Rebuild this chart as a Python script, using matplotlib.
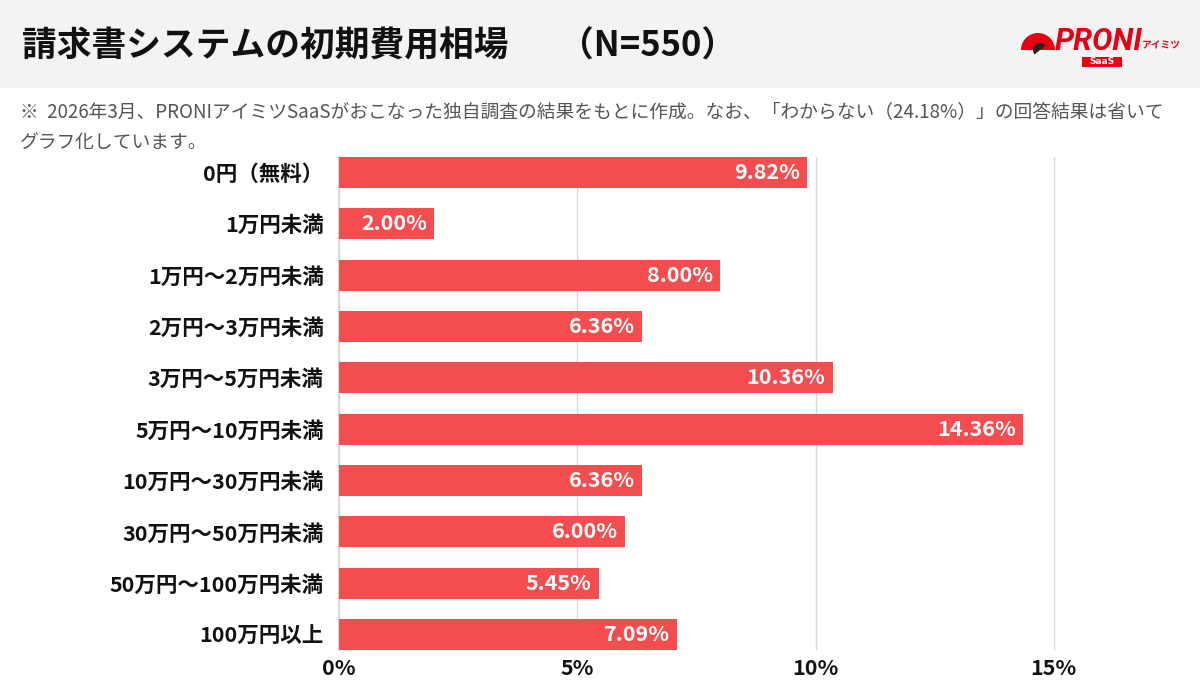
import matplotlib.pyplot as plt
from matplotlib.patches import Rectangle, Wedge
import numpy as np

plt.rcParams['font.family'] = ['Noto Sans CJK JP', 'DejaVu Sans']

categories = ['0円（無料）', '1万円未満', '1万円〜2万円未満', '2万円〜3万円未満', '3万円〜5万円未満',
              '5万円〜10万円未満', '10万円〜30万円未満', '30万円〜50万円未満', '50万円〜100万円未満',
              '100万円以上']
values = [9.82, 2.00, 8.00, 6.36, 10.36, 14.36, 6.36, 6.00, 5.45, 7.09]
xticks = [0, 5, 10, 15]

bar_color = '#f44d4f'
logo_red = '#e60012'

fig = plt.figure(figsize=(12, 7), dpi=100)
fig.patch.set_facecolor('white')

# header band
fig.patches.append(Rectangle((0, 1 - 88 / 700), 1, 88 / 700, transform=fig.transFigure,
                             facecolor='#f3f3f3', edgecolor='none', zorder=-5))
fig.text(22 / 1200, 1 - 46 / 700, '請求書システムの初期費用相場', fontsize=25,
         fontweight='bold', color='#111111', va='center', ha='left')
fig.text(559 / 1200, 1 - 46 / 700, '（N=550）', fontsize=25,
         fontweight='bold', color='#111111', va='center', ha='left')

# logo (drawn in pixel-like coords, y measured from bottom)
ax_logo = fig.add_axes([1010 / 1200, 1 - 80 / 700, 180 / 1200, 70 / 700])
ax_logo.set_xlim(1010, 1190)
ax_logo.set_ylim(620, 690)
ax_logo.axis('off')
ax_logo.add_patch(Wedge((1038, 650), 17, 0, 180, facecolor=logo_red, edgecolor='none'))
ax_logo.add_patch(Wedge((1040, 650), 7, 40, 220, facecolor='#222222', edgecolor='none'))
ax_logo.text(1055, 650, 'PRONI', fontsize=22, fontweight='bold', fontstyle='italic',
             color=logo_red, va='baseline', ha='left', family=['Roboto'])
ax_logo.text(1142, 652, 'アイミツ', fontsize=7, fontweight='bold', color=logo_red,
             va='baseline', ha='left')
ax_logo.add_patch(Rectangle((1082, 633), 40, 10, facecolor=logo_red, edgecolor='none'))
ax_logo.text(1102, 638, 'SaaS', fontsize=6.5, fontweight='bold', color='white',
             va='center', ha='center', family=['DejaVu Sans'])

# note
fig.text(20 / 1200, 1 - 112 / 700,
         '※  2026年3月、PRONIアイミツSaaSがおこなった独自調査の結果をもとに作成。なお、「わからない（24.18%）」の回答結果は省いて',
         fontsize=13.5, color='#555555', va='center', ha='left')
fig.text(20 / 1200, 1 - 143 / 700, 'グラフ化しています。', fontsize=13.5, color='#555555',
         va='center', ha='left')

ax = fig.add_axes([339 / 1200, 50 / 700, 834 / 1200, 493 / 700])
y = np.arange(len(categories))
ax.barh(y, values, height=0.6, color=bar_color, zorder=2)
ax.set_ylim(len(categories) - 0.7, -0.3)
ax.set_xlim(0, 17.5)

for yi, v in zip(y, values):
    ax.text(v - 0.15, yi, f'{v:.2f}%', color='white', fontsize=15.5, fontweight='bold',
            va='center', ha='right', zorder=3)

ax.set_yticks(y)
ax.set_yticklabels(categories, fontsize=15.5, fontweight='bold', color='#111111')
ax.set_xticks(xticks)
ax.set_xticklabels([f'{t}%' for t in xticks], fontsize=15.5, fontweight='bold', color='#111111')
ax.tick_params(axis='y', length=0, pad=11)
ax.tick_params(axis='x', length=0, pad=6)
ax.grid(axis='x', color='#d9d9d9', linewidth=1, zorder=0)
for s in ['top', 'right', 'bottom']:
    ax.spines[s].set_visible(False)
ax.spines['left'].set_color('#d9d9d9')
ax.spines['left'].set_linewidth(1.5)
ax.spines['left'].set_zorder(1)

fig.savefig('out.png', dpi=100)
